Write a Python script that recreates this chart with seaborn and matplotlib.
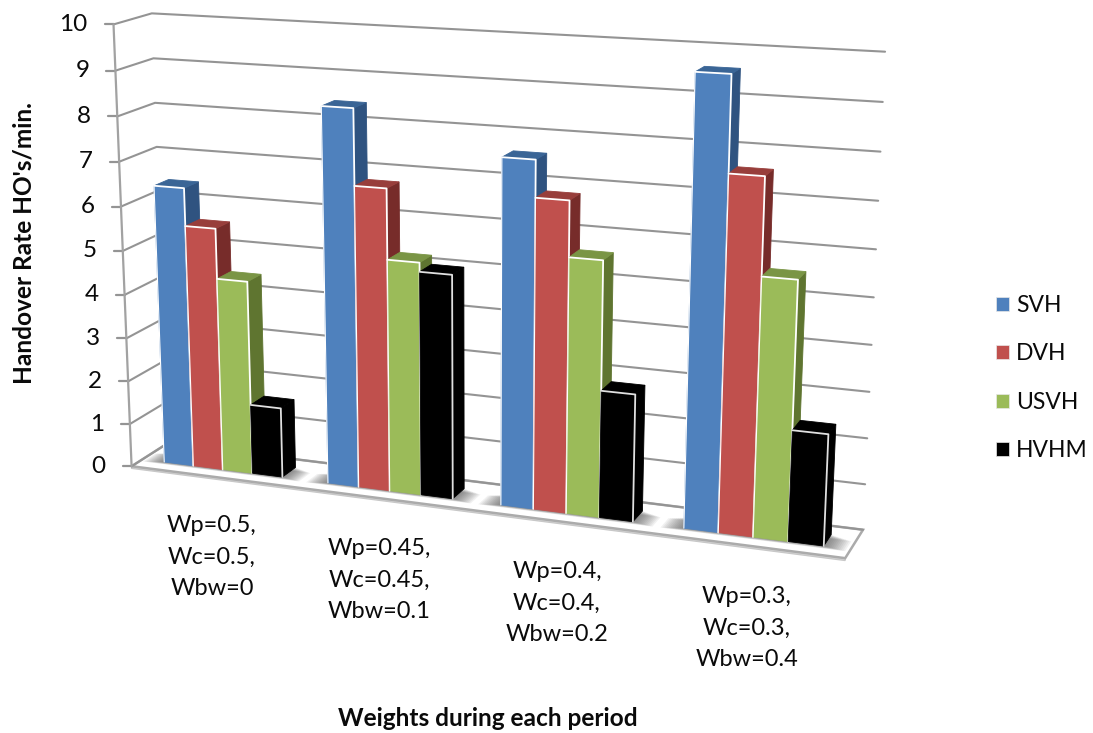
import numpy as np
import pandas as pd
import matplotlib
matplotlib.use("Agg")
import matplotlib.pyplot as plt
from matplotlib.patches import Polygon, Patch
import seaborn as sns

# Chart content
categories = ["Wp=0.5,\nWc=0.5,\nWbw=0", "Wp=0.45,\nWc=0.45,\nWbw=0.1",
              "Wp=0.4,\nWc=0.4,\nWbw=0.2", "Wp=0.3,\nWc=0.3,\nWbw=0.4"]
series_names = ["SVH", "DVH", "USVH", "HVHM"]
svh = [6.4, 8.42, 7.6, 9.6]
dvh = [5.55, 6.75, 6.8, 7.6]
usvh = [4.42, 5.2, 5.6, 5.55]
hvhm = [1.6, 5.0, 2.8, 2.4]
y_ticks = list(range(0, 11))
y_title = "Handover Rate HO's/min."
x_title = "Weights during each period"

front_colors = ["#4F81BD", "#C0504D", "#9BBB59", "#000000"]
side_colors = ["#2F5380", "#772C2A", "#5F7530", "#000000"]
top_colors = ["#3A6596", "#983E3B", "#7A9545", "#000000"]

# Camera calibration: (category span, value, depth) -> figure pixels
calib_world = np.array([(0, 0, 0), (0, 10, 0), (0, 5, 0), (0, 0, 1), (0, 10, 1), (0, 5, 1),
                        (1, 10, 1), (1, 5, 1), (1, 0, 1), (1, 0, 0)], float)
calib_pix = np.array([(133, 465), (112, 25), (123, 250), (166, 445), (153, 13), (160, 234),
                      (885, 52), (874, 297), (863, 528), (845, 560)], float)


def fit_camera(world, pix):
    rows, rhs = [], []
    for (u, v, d), (x, y) in zip(world, pix):
        rows.append([u, v, d, 1, 0, 0, 0, 0, -x * u, -x * v, -x * d])
        rhs.append(x)
        rows.append([0, 0, 0, 0, u, v, d, 1, -y * u, -y * v, -y * d])
        rhs.append(y)
    sol = np.linalg.lstsq(np.array(rows), np.array(rhs), rcond=None)[0]
    return np.append(sol, 1.0).reshape(3, 4)


CAM = fit_camera(calib_world, calib_pix)


def project(u, v, d):
    h = CAM @ np.array([u, v, d, 1.0])
    return h[0] / h[2], h[1] / h[2]


def quad(points):
    return [project(*p) for p in points]


sns.set_theme(style="white")
plt.rcParams["font.family"] = ["Lato", "DejaVu Sans"]

fig = plt.figure(figsize=(10.93, 7.33), dpi=100)
ax = fig.add_axes([0, 0, 1, 1])
ax.set_xlim(0, 1093)
ax.set_ylim(733, 0)
ax.axis("off")

GRID = "#949494"
TEXT = "#0A0A0A"

# Floor plate with a thin front lip
ax.add_patch(Polygon(quad([(0, 0, 0), (1, 0, 0), (1, -0.05, 0), (0, -0.05, 0)]),
                     fc="#DADADA", ec="#C8C8C8", lw=1, zorder=1))
ax.add_patch(Polygon(quad([(0, 0, 0), (1, 0, 0), (1, 0, 1), (0, 0, 1)]),
                     fc="white", ec="#ABABAB", lw=1.8, zorder=1.2))

# Wall gridlines and the value axis
for v in y_ticks:
    pts = quad([(0, v, 0), (0, v, 1), (1, v, 1)])
    ax.plot(*zip(*pts), color=GRID, lw=1.5, zorder=1.5, solid_joinstyle="round")
    x0, y0 = pts[0]
    ax.plot([x0 - 9, x0], [y0, y0], color=GRID, lw=1.6, zorder=1.5)
    ax.text(x0 - 26, y0, str(v), ha="right", va="center", fontsize=17.5, color=TEXT)
ax.plot(*zip(*quad([(0, 0, 0), (0, 10, 0)])), color="#A2A2A2", lw=1.6, zorder=1.5)

values = pd.DataFrame(dict(zip(series_names, [svh, dvh, usvh, hvhm])))
n_cat, n_ser = values.shape
GAP = 0.75
slot = n_ser + 2 * GAP
D0, D1 = 0.3, 0.7

# Soft contact shadow on the floor around each group
for i in range(n_cat):
    ua = (i + GAP / slot) / n_cat
    ub = (i + (GAP + n_ser) / slot) / n_cat
    for k in range(12, 0, -1):
        du = 0.0024 * k
        dd = 0.022 * k
        ax.add_patch(Polygon(quad([(ua - du, 0, D0 - dd * 0.3), (ub + du, 0, D0 - dd * 0.3),
                                   (ub + du, 0, D1 - dd * 0.5), (ua - du, 0, D1 - dd * 0.5)]),
                             fc="#4A4A4A", ec="none", alpha=0.075, zorder=1.3))

# Bars, left to right so each one covers its neighbour's side face
z = 2.0
for i in range(n_cat):
    for j, name in enumerate(series_names):
        val = values.iloc[i, j]
        u0 = (i + (GAP + j) / slot) / n_cat
        u1 = (i + (GAP + j + 1) / slot) / n_cat
        side = quad([(u1, 0, D0), (u1, 0, D1), (u1, val, D1), (u1, val, D0)])
        top = quad([(u0, val, D0), (u1, val, D0), (u1, val, D1), (u0, val, D1)])
        front = quad([(u0, 0, D0), (u1, 0, D0), (u1, val, D0), (u0, val, D0)])
        edge = "#E0E0E0" if name == "HVHM" else "white"
        ax.add_patch(Polygon(side, fc=side_colors[j], ec=side_colors[j], lw=0.6, zorder=z))
        ax.add_patch(Polygon(top, fc=top_colors[j], ec=top_colors[j], lw=0.6, zorder=z + 0.01))
        ax.add_patch(Polygon(front, fc=front_colors[j], ec=front_colors[j], lw=0.6, zorder=z + 0.02))
        (bx, by), (tx, ty), (lx, ly) = front[1], front[2], front[3]
        ax.plot([lx, tx, bx], [ly, ty, by], color=edge, lw=1.3, zorder=z + 0.03,
                solid_joinstyle="round")
        if name != "HVHM":
            ax.plot([front[0][0], lx], [front[0][1], ly], color="white", lw=0.8, zorder=z + 0.03)
        z += 0.1

# Category labels, axis titles and legend
label_pos = [(212, 557), (379, 580), (557, 603), (747, 628)]
for text, (x, y) in zip(categories, label_pos):
    ax.text(x, y, text, ha="center", va="center", fontsize=17, linespacing=1.6, color=TEXT)
ax.text(488, 718, x_title, ha="center", va="center", fontsize=17.6, fontweight="bold", color=TEXT)
ax.text(24, 243, y_title, ha="center", va="center", rotation=90, fontsize=17.6,
        fontweight="bold", color=TEXT)

handles = [Patch(fc=c, ec="#E8E8E8", lw=0.5, label=n) for c, n in zip(front_colors, series_names)]
ax.legend(handles=handles, loc="center left", bbox_to_anchor=(996, 378),
          bbox_transform=ax.transData, frameon=False, fontsize=16.5,
          handlelength=0.57, handleheight=0.57, handletextpad=0.3, labelspacing=1.2,
          labelcolor=TEXT, borderpad=0, borderaxespad=0)

fig.savefig("out.png", dpi=100, facecolor="white")
